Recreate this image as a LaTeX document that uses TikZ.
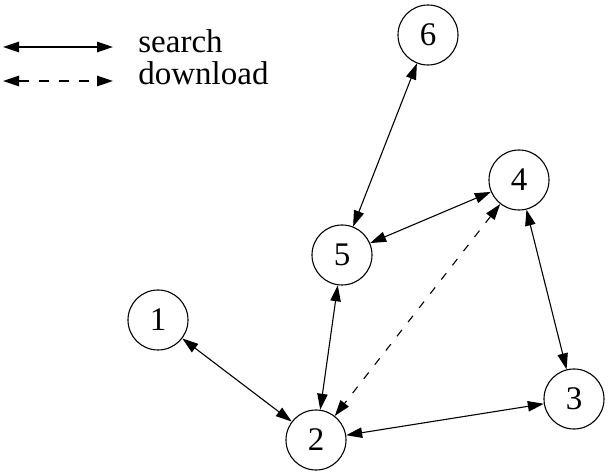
\documentclass[tikz,border=0pt]{standalone}
\usepackage{fontspec}
\setmainfont{Liberation Serif}
\usetikzlibrary{arrows.meta}

\begin{document}
\begin{tikzpicture}
[x=0.5pt, y=-0.5pt, every node/.style={inner sep=0pt, font=\fontsize{16.5}{19}\selectfont},
 peer/.style={circle, minimum size=30pt, line width=0.55pt, draw=black},
 link/.style={line width=0.55pt, {Triangle[length=8pt,width=5.2pt]}-{Triangle[length=8pt,width=5.2pt]}, color=black}]
\useasboundingbox (0,0) rectangle (610,475);
\node (6) [peer] at (428, 35) {6};
\node (4) [peer] at (519, 180) {4};
\node (5) [peer] at (342, 255) {5};
\node (1) [peer] at (158, 320) {1};
\node (2) [peer] at (316, 440) {2};
\node (3) [peer] at (574, 399) {3};
\coordinate (sa) at (3, 47);
\coordinate (sb) at (113, 47);
\coordinate (da) at (3, 81);
\coordinate (db) at (113, 81);
\node (search) [anchor=base west] at (138, 53) {search};
\node (download) [anchor=base west] at (138, 85) {download};
\draw [link, line width=0.8pt] (sa) to (sb);
\draw [link, line width=0.8pt, dash pattern=on 5pt off 5pt] (da) to (db);
\draw [link] (6) to (5);
\draw [link] (5) to (4);
\draw [link] (4) to (3);
\draw [link] (3) to (2);
\draw [link] (2) to (5);
\draw [link] (1) to (2);
\draw [link, dash pattern=on 4pt off 5pt] (4) to (2);
\end{tikzpicture}
\end{document}
